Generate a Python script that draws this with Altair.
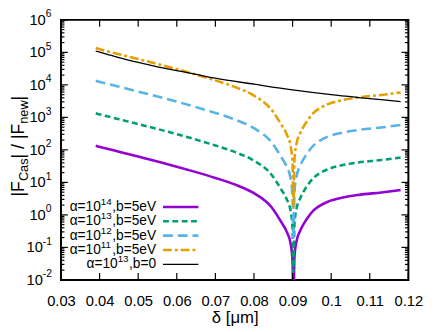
import altair as alt
import pandas as pd

# ---------------- data ----------------
delta = [0.039, 0.042, 0.045, 0.050, 0.055, 0.060, 0.065, 0.070, 0.075, 0.080,
         0.0845, 0.087, 0.0885, 0.0895, 0.0900, 0.0902, 0.0905, 0.091, 0.092,
         0.093, 0.094, 0.0955, 0.097, 0.099, 0.103, 0.107, 0.113, 0.118]

purple_vals = [133, 108, 88, 62.2, 43.9, 30.5, 20.7, 13.7, 8.65, 4.65,
               1.75, 0.62, 0.30, 0.13, 0.036, 0.0017, 0.055, 0.15, 0.33,
               0.56, 0.85, 1.4, 1.9, 2.5, 3.4, 4.1, 4.9, 5.8]
green_vals = [1330, 1080, 880, 622, 439, 305, 207, 137, 86.5, 46.5,
              17.5, 6.2, 3.0, 1.3, 0.36, 0.017, 0.55, 1.5, 3.3,
              5.6, 8.5, 14, 19, 25, 34, 41, 49, 58]
blue_vals = [13300, 10800, 8800, 6220, 4390, 3050, 2070, 1370, 865, 465,
             175, 62, 30, 13, 3.6, 0.17, 5.5, 15, 33,
             56, 85, 140, 190, 250, 340, 410, 490, 580]
orange_vals = [135000, 108000, 88000, 62200, 43900, 30500, 20700, 13700, 8650, 4650,
               1750, 620, 300, 130, 36, 1.7, 55, 150, 330,
               560, 850, 1400, 1900, 2500, 3400, 4100, 4900, 5800]

delta_b0 = [0.039, 0.042, 0.045, 0.050, 0.055, 0.060, 0.065, 0.070, 0.080,
            0.090, 0.100, 0.110, 0.118]
black_vals = [110000, 87000, 69000, 49000, 36000, 27500, 21000, 16000, 10500,
              7000, 5000, 3800, 3050]

x_ticks = [0.03, 0.04, 0.05, 0.06, 0.07, 0.08, 0.09, 0.10, 0.11, 0.12]
y_exponents = [-2, -1, 0, 1, 2, 3, 4, 5, 6]

legend_head = ["α=10", "α=10", "α=10", "α=10", "α=10"]
legend_exp = ["14", "13", "12", "11", "13"]
legend_tail = [",b=5eV", ",b=5eV", ",b=5eV", ",b=5eV", ",b=0"]

# ---------------- styling ----------------
FONT = "Liberation Sans"
W, H = 354, 265

series = [
    dict(x=delta, y=purple_vals, color="#9400D3", dash=None, width=2.6),
    dict(x=delta, y=green_vals, color="#009E73", dash=[6, 3.5], width=2.6),
    dict(x=delta, y=blue_vals, color="#56B4E9", dash=[10, 5], width=2.6),
    dict(x=delta, y=orange_vals, color="#E69F00", dash=[9, 3, 3, 3], width=2.6),
    dict(x=delta_b0, y=black_vals, color="#000000", dash=None, width=1.3),
]

xscale = alt.Scale(domain=[0.03, 0.12], nice=False, zero=False)
yscale = alt.Scale(type="log", domain=[1e-2, 1e6], nice=False)
xaxis = alt.Axis(values=x_ticks, format=".2~f", grid=False, ticks=False, domain=False,
                 labelFontSize=15, labelFont=FONT, labelColor="black", labelPadding=14,
                 labelFlush=False, title="δ [μm]", titleFont=FONT,
                 titleFontSize=17, titleFontWeight="normal", titleColor="black",
                 titlePadding=1)


def xenc(field):
    return alt.X(field, scale=xscale, axis=xaxis)


def yenc(field):
    return alt.Y(field, scale=yscale, axis=None)


layers = []
for s in series:
    df = pd.DataFrame({"d": s["x"], "v": s["y"]})
    kw = dict(color=s["color"], strokeWidth=s["width"], interpolate="monotone", clip=True)
    if s["dash"]:
        kw["strokeDash"] = s["dash"]
    layers.append(alt.Chart(df).mark_line(**kw).encode(x=xenc("d:Q"), y=yenc("v:Q")))

# ticks (inward, mirrored)
xt = pd.DataFrame({"d": x_ticks})
for y0, y1 in [(H, H - 7), (0, 7)]:
    layers.append(alt.Chart(xt).mark_rule(color="black", strokeWidth=1.2).encode(
        x=xenc("d:Q"), y=alt.value(y0), y2=alt.value(y1)))

ymaj = pd.DataFrame({"v": [10.0 ** e for e in y_exponents]})
ymin = pd.DataFrame({"v": [k * 10.0 ** e for e in y_exponents[:-1] for k in range(2, 10)]})
for df, ln in [(ymaj, 7), (ymin, 3.5)]:
    for x0, x1 in [(0, ln), (W, W - ln)]:
        layers.append(alt.Chart(df).mark_rule(color="black", strokeWidth=1.2).encode(
            y=yenc("v:Q"), x=alt.value(x0), x2=alt.value(x1)))

# y tick labels 10^e with real superscripts
ylab = pd.DataFrame({"e": y_exponents})
ybase = alt.Chart(ylab).transform_calculate(val="pow(10, datum.e)", es="toString(datum.e)")
for cond, xr in [("datum.e >= 0", -15.5), ("datum.e < 0", -18.5)]:
    b = ybase.transform_filter(cond)
    layers.append(b.mark_text(align="right", baseline="middle", fontSize=15, font=FONT,
                              color="black").encode(y=yenc("val:Q"), x=alt.value(xr),
                                                    text=alt.value("10")))
    layers.append(b.mark_text(align="left", baseline="middle", fontSize=10.5, font=FONT,
                              color="black", dy=-5.5).encode(y=yenc("val:Q"), x=alt.value(xr),
                                                             text="es:N"))

# y axis title with subscripts (rotated pieces)
title_pieces = [("|F", 180, 18, -37.5), ("Cas", 164.3, 13, -33.5),
                ("| / |F", 141.2, 18, -37.5), ("new", 105.9, 13, -33.5),
                ("|", 82.1, 18, -37.5)]
for txt, yy, fs, xx in title_pieces:
    layers.append(alt.Chart(pd.DataFrame({"t": [txt]})).mark_text(
        align="left", baseline="alphabetic", angle=270, fontSize=fs, font=FONT,
        color="black").encode(text="t:N", x=alt.value(xx), y=alt.value(yy)))

# legend (inside plot, labels right-aligned, symbols on the right)
CW = {"α": 0.58, "=": 0.584, "1": 0.556, "0": 0.556, "2": 0.556, "3": 0.556, "4": 0.556,
      "5": 0.556, ",": 0.278, "b": 0.556, "e": 0.556, "V": 0.667}


def tw(s, fs):
    return sum(CW.get(c, 0.556) for c in s) * fs


LFS, LES = 14, 10
right_end = 97
for i, s in enumerate(series):
    yy = 190.7 + 14.6 * i
    kw = dict(color=s["color"], strokeWidth=s["width"])
    if s["dash"]:
        kw["strokeDash"] = s["dash"]
    layers.append(alt.Chart(pd.DataFrame({"a": [0]})).mark_rule(**kw).encode(
        x=alt.value(104), x2=alt.value(140), y=alt.value(yy)))
    x_tail = right_end - tw(legend_tail[i], LFS)
    x_exp = x_tail - tw(legend_exp[i], LES) - 0.5
    for txt, xx, fs, dy in [(legend_tail[i], x_tail, LFS, 0), (legend_exp[i], x_exp, LES, -5),
                            (legend_head[i], x_exp, LFS, 0)]:
        align = "right" if txt == legend_head[i] else "left"
        layers.append(alt.Chart(pd.DataFrame({"t": [txt]})).mark_text(
            align=align, baseline="middle", fontSize=fs, font=FONT, color="black", dy=dy
        ).encode(text="t:N", x=alt.value(xx), y=alt.value(yy)))

chart = alt.layer(*layers).properties(
    width=W, height=H,
    padding={"left": 54, "top": 9, "right": 20, "bottom": 50},
    autosize=alt.AutoSizeParams(type="none"),
).configure_view(stroke="black", strokeWidth=2)

chart.save("out.html", embed_options={"renderer": "svg", "actions": False})
